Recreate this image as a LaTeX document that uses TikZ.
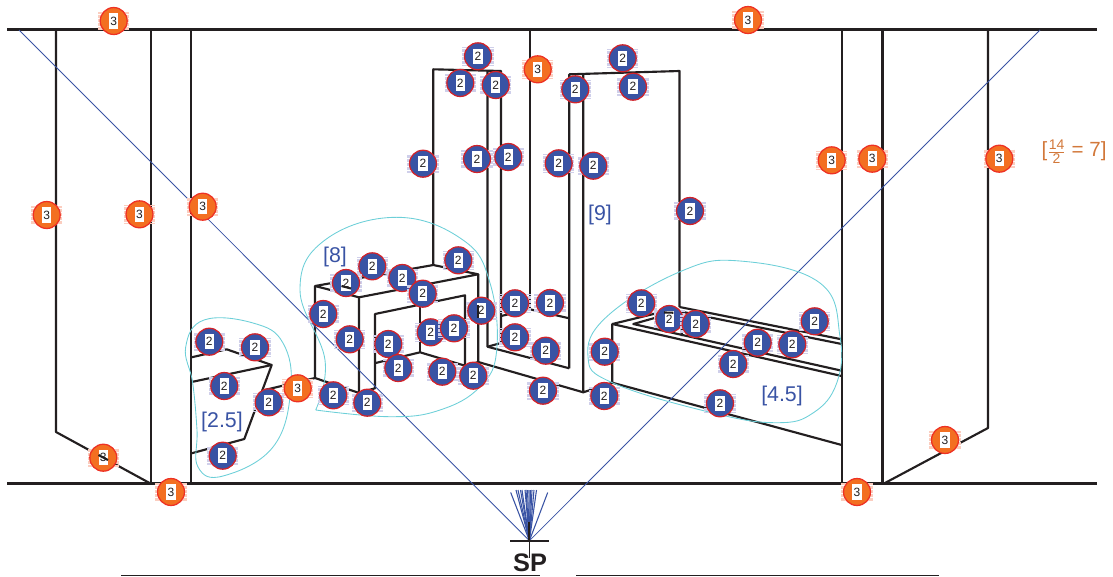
\documentclass[tikz,border=0pt]{standalone}
\usepackage{fontspec}
\setmainfont{Liberation Sans}
\definecolor{inkk}{HTML}{231F20}
\definecolor{pblue}{HTML}{3953A4}
\definecolor{pcyan}{HTML}{6DCFD8}
\definecolor{pred}{HTML}{D2232A}
\definecolor{porange}{HTML}{F36F21}
\definecolor{pored}{HTML}{EE3124}
\definecolor{haloblue}{HTML}{CFCFEA}
\definecolor{haloorange}{HTML}{FBCDBF}
\definecolor{fracorange}{HTML}{D2783A}
\tikzset{
  wall/.style={draw=inkk,line width=1.6pt,line join=round},
  ray/.style={draw=pblue,line width=0.65pt},
  blob/.style={draw=pcyan,line width=0.65pt},
  whitecore/.style={path picture={
    \fill[white] ([xshift=-3.4pt,yshift=-5.8pt]path picture bounding box.center) rectangle ([xshift=3.4pt,yshift=5.8pt]path picture bounding box.center);
  }},
  badgetwo/.style={circle,draw=pred,fill=pblue,line width=0.95pt,minimum size=20.2pt,inner sep=0pt,outer sep=0pt,text=inkk,font=\fontsize{9pt}{10pt}\selectfont,whitecore},
  badgethree/.style={circle,draw=pored,fill=porange,line width=0.95pt,minimum size=20.2pt,inner sep=0pt,outer sep=0pt,text=inkk,font=\fontsize{9pt}{10pt}\selectfont,whitecore},
  fringe/.style={line width=23.6pt,dash pattern=on 0.5pt off 0.5pt},
  tag/.style={text=pblue,font=\fontsize{16pt}{18pt}\selectfont,inner sep=0pt},
}
\begin{document}
\begin{tikzpicture}[x=0.75pt,y=-0.75pt]
\useasboundingbox (0,0) rectangle (1113,576);
% floor, ceiling and baseline
\draw[wall] (7,29.5) -- (1097,29.5);
\draw[wall] (7,483.5) -- (1097,483.5);
\draw[draw=inkk,line width=1pt] (121,575.3) -- (540,575.3);
\draw[draw=inkk,line width=1pt] (576,575.3) -- (939,575.3);
% left walls
\draw[wall] (56,29.5) -- (56,432) -- (150.5,483.5);
\draw[wall] (151,29.5) -- (151,483.5);
\draw[wall] (191,29.5) -- (191,483.5);
% right walls
\draw[wall] (842,29.5) -- (842,483.5);
\draw[wall] (882.5,29.5) -- (882.5,483.5);
\draw[wall] (988,29.5) -- (988,428) -- (884,483.5);
% small left object
\draw[wall] (191.5,357.3) -- (226.7,349.3) -- (271.7,365) -- (244.3,439) -- (191.5,453.3);
\draw[wall] (191.5,382) -- (271.7,365);
\draw[wall] (261.7,390.7) -- (315,378) -- (358.3,392.7);
% middle block
\draw[wall] (315,378) -- (315,286) -- (433.3,265) -- (478.3,274.3) -- (359,297.3) -- (315,286);
\draw[wall] (359,297.3) -- (359,392.7) -- (375,388.3) -- (375,314) -- (465,295.3) -- (465,365.7);
\draw[wall] (420,306.7) -- (420,352.3);
\draw[wall] (374.3,363.3) -- (420,352.3) -- (465,365.7) -- (478.3,362);
\draw[wall] (478.3,274.3) -- (478.3,362) -- (583.3,392.3);
\draw[wall] (433.3,265) -- (433.3,69.3) -- (501,71) -- (501,343) -- (487.5,346.7);
\draw[wall] (487.5,71) -- (487.5,346.7) -- (569.3,368.3);
\draw[wall] (501,316) -- (530,309.3) -- (569.3,318.3);
\draw[wall] (530,29.5) -- (530,309.3);
\draw[wall] (569.3,368.3) -- (569.3,74.3) -- (679.5,71) -- (679.5,307);
\draw[wall] (583.3,75) -- (583.3,392.3) -- (612.3,382.7);
% right low object
\draw[wall] (612.3,382.7) -- (612.3,324) -- (670,310);
\draw[wall] (612.3,324) -- (841.7,376);
\draw[wall] (673.3,312.7) -- (633.3,324) -- (841.7,370.7);
\draw[wall] (679.5,307) -- (841.7,339.3);
\draw[wall] (681.7,336) -- (681.7,311.7) -- (841.7,344);
\draw[wall] (612.3,382.7) -- (841.7,445);
% sight rays
\coordinate (sp) at (529.4,540.7);
\coordinate (rayL) at (19,30);
\coordinate (rayR) at (1040,30);
\draw[ray] (sp) -- (rayL);
\draw[ray] (sp) -- (rayR);
\foreach \fx/\fy in {510.7/492.5,516/490,518/490,520.5/490,522/490,525/490,526/490,527.5/490,529/490,530.5/490,532/490,534/490,536.5/490,547.7/492.5}
  \draw[ray,line width=0.8pt] (sp) -- (\fx,\fy);
\draw[draw=inkk,line width=1.5pt] (510,540.7) -- (549,540.7);
\draw[draw=inkk,line width=1pt] (529.4,540.7) -- (529.4,558);
\draw[draw=inkk,line width=1.6pt] (529.4,521.7) -- (529.4,540.7);
% zones
\draw[blob] plot[smooth cycle,tension=0.7] coordinates {(204,320) (253,323) (283,343) (290.7,390) (273,447) (223,476) (198,467) (197,430) (192.7,383) (185.7,347)};
\draw[blob] plot[smooth,tension=0.7] coordinates {(315.7,410) (390,416.7) (440,410) (480,386.7) (496.7,350) (490,283) (463,240) (396.7,217.3) (325,240) (300,290) (325,360) (315.7,410)};
\draw[blob] plot[smooth cycle,tension=0.7] coordinates {(740,261) (820,283) (840,336.7) (836.7,383) (813,413) (776.7,422.7) (713,413) (613,383) (588,356.7) (606.7,316.7) (680,271.7)};
% markers
\foreach \x/\y [count=\i] in {113.7/21,748/20,537.7/69.3,46.7/215,139.5/214.3,202.7/206.7,297.7/388.3,103.3/457.7,171/492,831.7/160.3,872.3/158.7,999.3/158.7,945/440,857/492}{
  \draw[haloorange,fringe] (\x,\y-9) -- (\x,\y+9);
  \node[badgethree] (c\i) at (\x,\y) {3};
}
\foreach \x/\y [count=\i] in {209.3/341.7,255/347.3,224.3/386,268.7/402.3,222.7/455.7,323.3/314,349.7/339.3,388.3/344,333.3/395.3,367.3/402.7,372.3/266.3,346/283,402.3/278,422.7/293.7,458.3/260.3,481.3/310.7,430.7/332.3,454/328.3,398.3/368,442.3/371.7,473.3/375.7,515/303.3,550/303,515/337.3,545.7/350.7,543/390.7,604.7/351.7,604.3/396,478/56.3,460.3/83,495.7/85,622.7/58.3,575.3/89.3,633/86.7,423/163.7,477/159,508.3/157,558.7/163.3,593.3/165.7,690/211,641.3/303.3,669.3/319,695.7/324,757.7/342.7,792.3/344.3,814.7/321.3,733.3/364,720/403.3}{
  \draw[haloblue,fringe] (\x,\y-9) -- (\x,\y+9);
  \node[badgetwo] (b\i) at (\x,\y) {2};
}
% edges that show through the marker centres
\draw[wall] (98.5,455) -- (108,460);
\draw[wall] (341.5,286) -- (351,288.5);
\draw[wall] (478.3,305) -- (478.3,318);
\draw[wall] (664,312.5) -- (673.3,312.7);
% labels
\node[tag] (t25) at (222,422) {[2.5]};
\node[tag] (t8) at (335,256.5) {[8]};
\node[tag] (t9) at (600,214.5) {[9]};
\node[tag] (t45) at (782,396) {[4.5]};
\node[text=fracorange,font=\fontsize{15.4pt}{17pt}\selectfont,inner sep=0pt] (tf) at (1074,151.5) {[$\frac{\mbox{\fontsize{10.5pt}{10.5pt}\selectfont 14}}{\mbox{\fontsize{10.5pt}{10.5pt}\selectfont 2}}$ = 7]};
\node[text=inkk,font=\fontsize{19pt}{20pt}\selectfont\bfseries,inner sep=0pt] (sptext) at (530,563) {SP};
\end{tikzpicture}
\end{document}
